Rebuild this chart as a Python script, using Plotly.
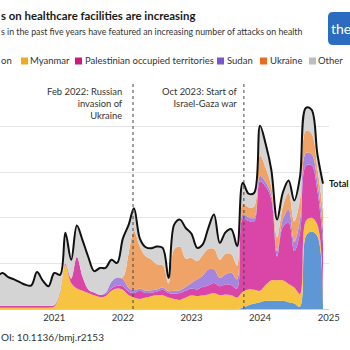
import plotly.graph_objects as go
import pandas as pd

months = pd.date_range("2020-01-01", "2024-12-01", freq="MS")

lebanon = [
    0, 0, 0, 0, 0, 0, 0, 0, 0, 0, 0, 0,
    0, 0, 0, 0, 0, 0, 0, 0, 0, 0, 0, 0,
    0, 0, 0, 0, 0, 0, 0, 0, 0, 0, 0, 0,
    0, 0, 0, 0, 0, 0, 0, 0, 0, 3, 8, 12,
    15, 18, 18, 18, 18, 15, 12, 5, 160, 170, 160, 5]
myanmar = [
    3, 3, 3, 3, 3, 3, 3, 3, 3, 3, 3, 3,
    5, 35, 97, 57, 45, 40, 35, 30, 26, 28, 40, 45,
    42, 30, 25, 22, 25, 28, 30, 30, 25, 22, 20, 25,
    30, 28, 30, 32, 35, 30, 32, 30, 25, 35, 35, 30,
    25, 35, 45, 45, 45, 40, 35, 28, 33, 30, 25, 15]
palestine = [
    4, 4, 4, 4, 4, 4, 4, 4, 4, 4, 4, 4,
    3, 3, 3, 10, 69, 30, 8, 6, 5, 5, 5, 6,
    8, 8, 10, 18, 10, 8, 8, 12, 10, 12, 15, 15,
    15, 15, 18, 20, 22, 20, 22, 22, 20, 160, 150, 150,
    240, 215, 177, 52, 117, 134, 80, 135, 121, 115, 75, 125]
sudan = [
    0, 0, 0, 0, 0, 0, 0, 0, 0, 0, 0, 0,
    0, 0, 0, 0, 0, 0, 0, 0, 0, 3, 15, 18,
    15, 8, 6, 5, 5, 5, 5, 5, 4, 6, 6, 8,
    12, 22, 25, 35, 30, 18, 22, 28, 20, 10, 8, 8,
    12, 10, 10, 12, 16, 29, 20, 28, 28, 25, 20, 30]
ukraine = [
    0, 0, 0, 0, 0, 0, 0, 0, 0, 0, 0, 0,
    0, 0, 0, 0, 0, 0, 0, 0, 0, 0, 0, 0,
    5, 77, 130, 92, 76, 68, 55, 49, 17, 91, 96, 63,
    55, 40, 45, 45, 45, 40, 45, 40, 30, 22, 22, 25,
    45, 30, 18, 30, 28, 37, 45, 45, 49, 45, 30, 40]
other = [
    63, 61, 65, 72, 63, 58, 52, 46, 45, 74, 55, 43,
    71, 37, 67, 41, 69, 80, 71, 47, 59, 54, 48, 32,
    85, 62, 50, 18, 20, 24, 39, 38, 12, 54, 59, 67,
    53, 29, 23, 46, 75, 37, 47, 55, 43, 47, 30, 30,
    65, 52, 37, 39, 31, 27, 46, 50, 50, 52, 30, 60]

series_names = ["Lebanon", "Myanmar", "Palestinian occupied territories", "Sudan", "Ukraine", "Other"]
series_values = [lebanon, myanmar, palestine, sudan, ukraine, other]
area_colors = ["#5f97d6", "#f6c343", "#d946a8", "#a585dd", "#f0a366", "#d4d4d4"]
legend_colors = ["#2f6fc4", "#f0aa1c", "#cc1a80", "#7d55cf", "#e86b1f", "#bdbdbd"]
total = [sum(v) for v in zip(*series_values)]

year_ticks = ["2021-01-01", "2022-01-01", "2023-01-01", "2024-01-01", "2025-01-01"]
year_labels = ["2021", "2022", "2023", "2024", "2025"]
grid_vals = [100, 200, 300, 400]

FONT = "Lato"
W, H = 350, 350
L, R, T, B = 0, 21, 81, 41
PW, PH = W - L - R, H - T - B


def px(x):
    return (x - L) / PW


def py(y):
    return (H - B - y) / PH


fig = go.Figure()
for name, vals, col in zip(series_names, series_values, area_colors):
    fig.add_trace(go.Scatter(
        x=months, y=vals, name=name, stackgroup="one", mode="lines",
        line=dict(width=0, shape="spline", smoothing=1), fillcolor=col,
        showlegend=False, hoverinfo="skip"))
fig.add_trace(go.Scatter(
    x=months, y=total, name="Total", mode="lines",
    line=dict(color="#111111", width=2, shape="spline", smoothing=1),
    showlegend=False))

shapes = []
for d in ["2022-02-24", "2023-10-07"]:
    shapes.append(dict(type="line", xref="x", yref="paper", x0=d, x1=d, y0=0, y1=1,
                       line=dict(color="#444444", width=1, dash="dot"), layer="above"))

annotations = []
annotations.append(dict(xref="paper", yref="paper", x=px(125), y=py(84), xanchor="right", yanchor="top",
                        align="right", showarrow=False,
                        text="Feb 2022: Russian<br>invasion of<br>Ukraine",
                        font=dict(family=FONT, size=9.4, color="#333333")))
annotations.append(dict(xref="paper", yref="paper", x=px(239), y=py(84), xanchor="right", yanchor="top",
                        align="right", showarrow=False,
                        text="Oct 2023: Start of<br>Israel-Gaza war",
                        font=dict(family=FONT, size=9.4, color="#333333")))
annotations.append(dict(xref="paper", yref="paper", x=px(327), y=py(183), xanchor="left", yanchor="middle",
                        showarrow=False, text="<b>Total</b>",
                        font=dict(family=FONT, size=9, color="#111111")))

annotations.append(dict(xref="paper", yref="paper", x=px(-1), y=py(15), xanchor="left", yanchor="middle",
                        showarrow=False, text="<b>s on healthcare facilities are increasing</b>",
                        font=dict(family=FONT, size=11.4, color="#1a1a1a")))
annotations.append(dict(xref="paper", yref="paper", x=px(-1), y=py(31), xanchor="left", yanchor="middle",
                        showarrow=False,
                        text="s in the past five years have featured an increasing number of attacks on health",
                        font=dict(family=FONT, size=8.75, color="#333333")))
annotations.append(dict(xref="paper", yref="paper", x=px(-1), y=py(337), xanchor="left", yanchor="middle",
                        showarrow=False, text="OI: 10.1136/bmj.r2153",
                        font=dict(family=FONT, size=10, color="#333333")))

leg_y = 61
leg_items = [(None, "on", 0), (21, "Myanmar", 29), (75, "Palestinian occupied territories", 84),
             (217, "Sudan", 226), (260, "Ukraine", 269), (309, "Other", 317)]
for (sq, label, tx), col in zip(leg_items, legend_colors):
    if sq is not None:
        shapes.append(dict(type="rect", xref="paper", yref="paper",
                           x0=px(sq), x1=px(sq + 7), y0=py(leg_y + 3.5), y1=py(leg_y - 3.5),
                           fillcolor=col, line=dict(width=0)))
    annotations.append(dict(xref="paper", yref="paper", x=px(tx - 1), y=py(leg_y), xanchor="left",
                            yanchor="middle", showarrow=False, text=label,
                            font=dict(family=FONT, size=9.5, color="#333333")))

x0, x1, y0, y1, r = 328, 356, 12, 45, 5
path = (f"M {px(x0 + r)} {py(y0)} L {px(x1)} {py(y0)} L {px(x1)} {py(y1)} L {px(x0 + r)} {py(y1)} "
        f"Q {px(x0)} {py(y1)} {px(x0)} {py(y1 - r)} L {px(x0)} {py(y0 + r)} "
        f"Q {px(x0)} {py(y0)} {px(x0 + r)} {py(y0)} Z")
shapes.append(dict(type="path", xref="paper", yref="paper", path=path,
                   fillcolor="#2b6cc0", line=dict(width=0)))
annotations.append(dict(xref="paper", yref="paper", x=px(328.5), y=py(28), xanchor="left", yanchor="middle",
                        showarrow=False, text="the",
                        font=dict(family=FONT, size=14, color="#ffffff")))

fig.update_layout(
    width=W, height=H, margin=dict(l=L, r=R, t=T, b=B),
    paper_bgcolor="white", plot_bgcolor="white",
    shapes=shapes, annotations=annotations, showlegend=False,
    xaxis=dict(type="date", range=["2020-03-18", "2025-01-02"], tickvals=year_ticks, ticktext=year_labels,
               showgrid=False, showline=True, linecolor="#cccccc", linewidth=1, ticks="",
               tickfont=dict(family=FONT, size=9.5, color="#333333"), zeroline=False),
    yaxis=dict(range=[0, 500], tickvals=grid_vals, showticklabels=False, showgrid=True,
               gridcolor="#e6e6e6", gridwidth=1, zeroline=False, showline=False, ticks=""),
    font=dict(family=FONT),
)
fig.write_html("out.html")
